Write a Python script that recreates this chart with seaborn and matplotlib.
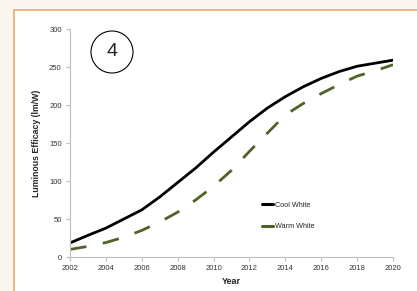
import matplotlib
matplotlib.use("Agg")
import matplotlib.pyplot as plt
import pandas as pd
import seaborn as sns
from matplotlib.patches import Ellipse, Rectangle
from matplotlib.lines import Line2D

years = list(range(2002, 2021))
cool_white = [18.5, 28.5, 38, 50, 62, 79, 98, 117, 138, 158, 178, 196, 211, 224, 235, 244, 251, 255, 259]
warm_white = [10, 14, 19, 26, 35, 46, 59, 75, 93, 114, 139, 163, 187, 202, 215, 227, 238, 245, 253]
series_names = ["Cool White", "Warm White"]

df = pd.DataFrame(
    {"Year": years * 2,
     "Efficacy": cool_white + warm_white,
     "Series": [series_names[0]] * len(years) + [series_names[1]] * len(years)}
)

sns.set_style("white")
plt.rcParams["font.family"] = ["Liberation Sans", "DejaVu Sans"]

W, H = 417, 291
fig = plt.figure(figsize=(W / 100, H / 100), dpi=100)
fig.patch.set_facecolor("#FCF6F0")

# white panel with orange top/left border
panel_left = 13.5 / W
panel_top = 1 - 9.5 / H
fig.patches.append(Rectangle((panel_left, 0), 1 - panel_left, panel_top,
                             transform=fig.transFigure, facecolor="white",
                             edgecolor="none", zorder=-5))
fig.lines.append(Line2D([panel_left, 1], [panel_top, panel_top], transform=fig.transFigure,
                        color="#EFAF7E", lw=1.3, zorder=-4))
fig.lines.append(Line2D([panel_left, panel_left], [0, panel_top], transform=fig.transFigure,
                        color="#EFAF7E", lw=1.3, zorder=-4))

ax = fig.add_axes([70 / W, 1 - 257 / H, 323 / W, 228 / H])
ax.set_facecolor("none")
ax.set_zorder(2)

palette = {"Cool White": "black", "Warm White": "#4F6228"}
sns.lineplot(data=df, x="Year", y="Efficacy", hue="Series", style="Series",
             palette=palette, dashes={"Cool White": "", "Warm White": (6, 6)},
             linewidth=2.0, ax=ax, legend=False)

ax.set_xlim(2002, 2020)
ax.set_ylim(0, 300)
ax.set_xticks(range(2002, 2021, 2))
ax.set_yticks(range(0, 301, 50))
for side in ["top", "right"]:
    ax.spines[side].set_visible(False)
for side in ["left", "bottom"]:
    ax.spines[side].set_color("#BFBFBF")
    ax.spines[side].set_linewidth(0.8)
ax.tick_params(axis="both", which="both", direction="out", length=3, width=0.8,
               color="#BFBFBF", labelsize=5.5, pad=3, labelcolor="#333333")
ax.tick_params(left=True, bottom=True)

ax.set_xlabel("Year", fontsize=6.5, fontweight="bold", labelpad=3)
ax.set_ylabel("Luminous Efficacy (lm/W)", fontsize=6.3, fontweight="bold", labelpad=6)

handles = [Line2D([], [], color="black", lw=2.2),
           Line2D([], [], color="#4F6228", lw=2.2)]
leg = ax.legend(handles, series_names, loc="upper left",
                bbox_to_anchor=(0.575, 0.27), frameon=False, fontsize=5.2,
                handlelength=1.5, handletextpad=0.25, labelspacing=2.0)

cx, cy = 112 / W, 1 - 52 / H
fig.patches.append(Ellipse((cx, cy), 42 / W, 42 / H, transform=fig.transFigure,
                           facecolor="none", edgecolor="black", lw=0.8, zorder=3))
fig.text(cx, cy, "4", fontsize=14, ha="center", va="center")

fig.savefig("out.png", dpi=100)
